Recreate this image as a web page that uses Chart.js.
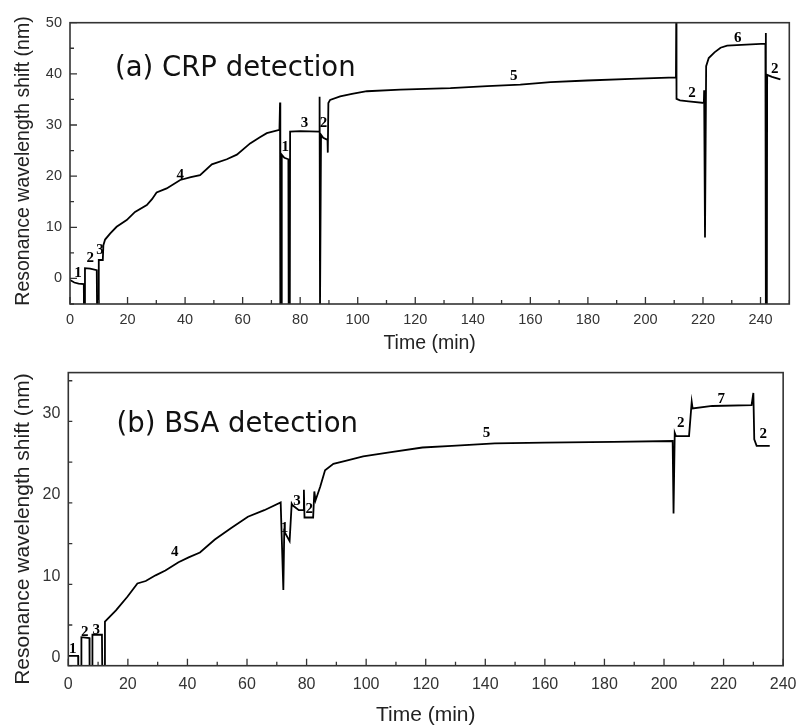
<!DOCTYPE html>
<html><head><meta charset="utf-8">
<script src="https://cdn.jsdelivr.net/npm/chart.js@4.4.0/dist/chart.umd.min.js"></script>
<style>
html,body{margin:0;padding:0;background:#fff;overflow:hidden;width:806px;height:726px;}
canvas{position:absolute;left:0;}
#cA{top:0;} #cB{top:355px;}
</style></head><body>
<canvas id="cA" width="806" height="360"></canvas>
<canvas id="cB" width="806" height="371"></canvas>
<script>
// ---------- (a) CRP detection ----------
const timeA = [0,1.5,3.0,4.8,4.85,5.15,5.2,7.0,9.3,9.4,9.95,10.0,11.4,11.6,12.2,14.0,16.2,19.7,22.6,26.7,28.5,30.1,33.6,38.3,42.0,45.2,49.3,54.5,58.0,62.6,66.0,68.4,72.8,73.0,73.1,73.5,73.6,74.5,75.9,76.0,76.4,76.5,80.0,86.6,86.75,86.9,87.2,87.25,88.0,89.5,89.6,89.8,90.4,93.9,98.0,103.2,114.8,132.2,145.0,156.5,167.0,179.7,195.0,210.6,210.7,210.8,212.0,215.0,220.3,220.4,220.7,221.1,222.0,224.0,226.1,228.4,235.0,241.7,241.8,241.9,242.2,242.3,244.0,246.9];
const shiftA = [-0.3,-0.8,-1.0,-1.1,-5.4,-5.4,2.0,1.9,1.6,-5.4,-5.4,3.6,3.6,6.5,7.6,8.8,10.1,11.4,13.0,14.35,15.5,16.8,17.6,19.25,19.8,20.2,22.3,23.3,24.2,26.4,27.6,28.4,29.05,34.4,-5.4,-5.4,24.2,23.6,23.3,-5.4,-5.4,28.7,28.8,28.7,35.5,-5.4,-5.4,28.1,27.5,27.1,24.6,34.3,34.9,35.6,36.1,36.6,36.9,37.2,37.6,37.9,38.4,38.7,39.0,39.3,50.5,35.1,34.8,34.6,34.3,36.8,8.0,41.5,43.1,44.2,45.1,45.5,45.7,45.9,48.0,-5.4,-5.4,39.8,39.4,38.9];
const xTicksA = [0,20,40,60,80,100,120,140,160,180,200,220,240];
const yTicksA = [0,10,20,30,40,50];
const stepTextA = ['1','2','3','4','1','3','2','5','2','6','2'];
const stepTimeA = [2.8,7.0,10.4,38.3,74.8,81.5,88.1,154.2,216.2,232.1,244.9];
const stepShiftA = [1.0,4.0,5.5,20.2,25.7,30.4,30.4,39.5,36.3,47.0,41.0];

// ---------- (b) BSA detection ----------
const timeB = [0,3.3,3.35,4.35,4.4,7.1,7.15,8.05,8.1,11.3,11.4,12.2,12.3,16.0,19.9,23.2,26.0,29.3,32.6,37.0,40.4,44.2,49.2,54.7,60.3,65.8,71.3,72.2,72.5,74.3,75.0,75.3,77.4,78.9,79.1,79.3,82.2,82.6,83.0,84.6,86.2,89.0,93.4,99.0,107.8,118.9,128.8,143.2,159.8,183.0,202.9,203.2,203.6,204.0,208.4,209.3,209.6,216.2,229.4,230.0,230.3,231.1,235.5];
const shiftB = [0.2,0.2,-1.4,-1.4,2.5,2.4,-1.4,-1.4,2.8,2.8,-1.4,-1.4,4.4,5.8,7.5,9.1,9.4,10.1,10.7,11.7,12.3,12.9,14.5,15.9,17.3,18.1,19.05,8.3,15.5,14.3,18.9,18.7,18.1,18.1,20.6,17.2,17.2,20.4,19.3,21.0,23.0,23.8,24.2,24.7,25.2,25.8,26.0,26.3,26.4,26.5,26.6,17.7,27.6,27.2,27.2,31.4,30.6,30.9,31.0,32.5,26.8,26.0,26.0];
const xTicksB = [0,20,40,60,80,100,120,140,160,180,200,220,240];
const yTicksB = [0,10,20,30];
const stepTextB = ['1','2','3','4','1','3','2','5','2','7','2'];
const stepTimeB = [1.5,5.5,9.4,35.7,72.6,76.8,80.9,140.4,205.6,219.2,233.3];
const stepShiftB = [1.0,3.1,3.4,12.9,15.9,19.25,18.2,27.6,28.8,31.75,27.4];

const panelA = '(a) CRP detection';
const panelB = '(b) BSA detection';
const yTitle = 'Resonance wavelength shift (nm)';
const xTitle = 'Time (min)';

function pts(t, v) { return t.map((x, i) => ({x: x, y: v[i]})); }

function decoPlugin(cfg) {
  return {
    id: 'deco',
    afterDatasetsDraw(chart) {
      const {ctx, chartArea: a, scales: {x, y}} = chart;
      ctx.save();
      ctx.strokeStyle = '#333';
      ctx.lineWidth = 1.3;
      ctx.beginPath();
      for (let v = x.min; v <= x.max + 1e-6; v += cfg.xMinor) {
        const px = x.getPixelForValue(v);
        const major = Math.abs(v % cfg.xMajor) < 1e-6;
        ctx.moveTo(px, a.bottom);
        ctx.lineTo(px, a.bottom - (major ? 7 : 4));
      }
      for (let v = y.min; v <= y.max + 1e-6; v += cfg.yMinor) {
        const py = y.getPixelForValue(v);
        const major = Math.abs(v % cfg.yMajor) < 1e-6;
        ctx.moveTo(a.left, py);
        ctx.lineTo(a.left + (major ? 7 : 4), py);
      }
      ctx.stroke();
      ctx.lineWidth = 1.6;
      ctx.strokeRect(a.left, a.top, a.right - a.left, a.bottom - a.top);
      // step labels
      ctx.fillStyle = '#000';
      ctx.font = 'bold 15px "Liberation Serif", "DejaVu Serif", serif';
      ctx.textAlign = 'center';
      ctx.textBaseline = 'middle';
      cfg.stepText.forEach((s, i) => {
        ctx.fillText(s, x.getPixelForValue(cfg.stepTime[i]), y.getPixelForValue(cfg.stepShift[i]));
      });
      // panel title
      ctx.fillStyle = '#111';
      ctx.font = '27.5px "DejaVu Sans", sans-serif';
      ctx.textAlign = 'left';
      ctx.textBaseline = 'alphabetic';
      ctx.fillText(cfg.panel, a.left + cfg.panelDx, a.top + cfg.panelDy);
      // y title
      ctx.fillStyle = '#222';
      ctx.font = cfg.yTitleSize + 'px "Liberation Sans", Arial, sans-serif';
      ctx.textAlign = 'center';
      ctx.textBaseline = 'middle';
      ctx.translate(cfg.yTitleX, cfg.yTitleY);
      ctx.rotate(-Math.PI / 2);
      ctx.fillText(yTitle, 0, 0);
      ctx.restore();
    }
  };
}

function makeChart(id, o) {
  return new Chart(document.getElementById(id), {
    type: 'scatter',
    data: { datasets: [{ data: pts(o.t, o.v), showLine: true, borderColor: '#000', borderWidth: 1.8,
      pointRadius: 0, tension: 0, fill: false }] },
    options: {
      responsive: false, animation: false, devicePixelRatio: 1,
      layout: { padding: { top: o.padTop, right: o.padRight, left: 0, bottom: 0 } },
      plugins: { legend: { display: false }, tooltip: { enabled: false } },
      scales: {
        x: {
          type: 'linear', min: o.xMin, max: o.xMax,
          grid: { display: false, drawTicks: false }, border: { display: false },
          afterBuildTicks: s => { s.ticks = o.xTicks.map(v => ({ value: v })); },
          afterFit: s => { s.height = o.xAxisH; },
          ticks: { padding: o.xTickPad, color: '#333', maxRotation: 0, autoSkip: false,
            font: { family: '"Liberation Sans", Arial, sans-serif', size: o.tickSize } },
          title: { display: true, text: xTitle, color: '#222',
            font: { family: '"Liberation Sans", Arial, sans-serif', size: o.xTitleSize, lineHeight: 1 },
            padding: { top: 0, bottom: o.xTitlePadB } }
        },
        y: {
          type: 'linear', min: o.yMin, max: o.yMax,
          grid: { display: false, drawTicks: false }, border: { display: false },
          afterBuildTicks: s => { s.ticks = o.yTicks.map(v => ({ value: v })); },
          afterFit: s => { s.width = o.yAxisW; },
          ticks: { padding: 8, color: '#333', autoSkip: false,
            font: { family: '"Liberation Sans", Arial, sans-serif', size: o.tickSize } },
          title: { display: false }
        }
      }
    },
    plugins: [decoPlugin(o.deco)]
  });
}

makeChart('cA', {
  t: timeA, v: shiftA, xMin: 0, xMax: 250, yMin: -5, yMax: 50,
  xTicks: xTicksA, yTicks: yTicksA, padTop: 22.7, padRight: 16.7,
  xAxisH: 56, yAxisW: 70, xTickPad: 7.6, tickSize: 14.5, xTitleSize: 19.5, xTitlePadB: 7,
  deco: { xMinor: 10, xMajor: 20, yMinor: 5, yMajor: 10, stepText: stepTextA, stepTime: stepTimeA,
    stepShift: stepShiftA, panel: panelA, panelDx: 45, panelDy: 53.3, yTitleSize: 19.5, yTitleX: 24, yTitleY: 161 }
});

makeChart('cB', {
  t: timeB, v: shiftB, xMin: 0, xMax: 240, yMin: -1, yMax: 35,
  xTicks: xTicksB, yTicks: yTicksB, padTop: 7.7, padRight: 15.3,
  xAxisH: 60.3, yAxisW: 68.3, xTickPad: 9.5, tickSize: 16, xTitleSize: 21, xTitlePadB: 0,
  deco: { xMinor: 10, xMajor: 20, yMinor: 5, yMajor: 10, stepText: stepTextB, stepTime: stepTimeB,
    stepShift: stepShiftB, panel: panelB, panelDx: 48.2, panelDy: 59, yTitleSize: 21, yTitleX: 23.3, yTitleY: 174 }
});
</script>
</body></html>
